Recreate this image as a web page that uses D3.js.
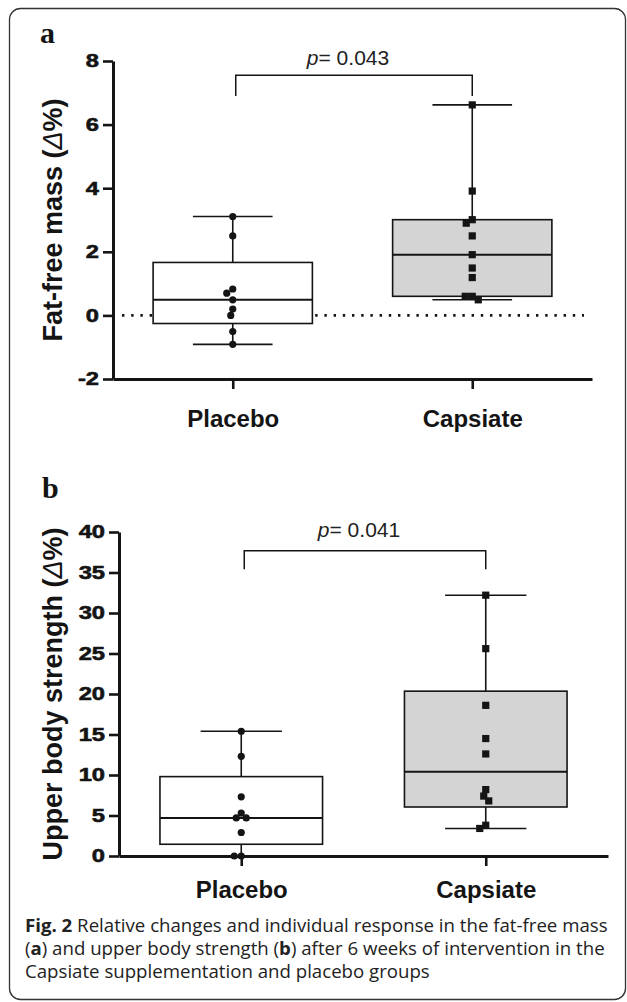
<!DOCTYPE html>
<html>
<head>
<meta charset="utf-8">
<script src="https://cdn.jsdelivr.net/npm/d3@7"></script>
<style>
  body { margin: 0; background: #fff; }
  svg { display: block; }
</style>
</head>
<body>
<div id="fig"></div>
<script>
/* groups on the x axis */
var groups = ["Placebo", "Capsiate"];

/* panel a: fat-free mass, relative change (%) per subject */
var ffmPlacebo = [3.11, 2.50, 0.83, 0.70, 0.49, 0.20, 0.00, -0.51, -0.91];
var ffmCapsiate = [6.62, 3.91, 3.01, 2.90, 2.50, 1.91, 1.49, 1.19, 0.60, 0.60, 0.49];
var ffmTicks = [-2, 0, 2, 4, 6, 8];

/* panel b: upper body strength, relative change (%) per subject */
var ubsPlacebo = [15.4, 12.3, 7.3, 5.3, 4.7, 4.7, 2.9, 0.0, 0.0];
var ubsCapsiate = [32.2, 25.6, 18.6, 14.5, 12.6, 8.2, 7.4, 6.8, 3.8, 3.4];
var ubsTicks = [0, 5, 10, 15, 20, 25, 30, 35, 40];

var pValues = ["0.043", "0.041"];

var W = 627, H = 1002;
var ink = "#141414";
var sans = "'Liberation Sans', Arimo, Arial, Helvetica, sans-serif";

var svg = d3.select("#fig").append("svg")
    .attr("width", W).attr("height", H);

/* frame round the figure */
svg.append("rect")
    .attr("x", 9.5).attr("y", 8.5)
    .attr("width", 616).attr("height", 991)
    .attr("rx", 11)
    .attr("fill", "none").attr("stroke", "#333").attr("stroke-width", 1.3);

function translate(x, y) { return "translate(" + x + "," + y + ")"; }

/* GraphPad style quantile: position (n+1)p, linear interpolation */
function quant(sorted, p) {
    var n = sorted.length, h = (n + 1) * p - 1, lo = Math.floor(h);
    if (lo < 0) return sorted[0];
    if (lo >= n - 1) return sorted[n - 1];
    return sorted[lo] + (h - lo) * (sorted[lo + 1] - sorted[lo]);
}

/* simple beeswarm: smallest horizontal shift that avoids overlap */
function swarm(ys, diam) {
    var placed = [];
    return ys.map(function(y) {
        var dx = 0;
        for (var k = 0; k < 60; k++) {
            dx = (k % 2 ? -1 : 1) * Math.ceil(k / 2);
            var ok = placed.every(function(p) {
                var ex = dx - p.dx, ey = y - p.y;
                return ex * ex + ey * ey >= diam * diam * 0.9;
            });
            if (ok) break;
        }
        var pt = {dx: dx, y: y};
        placed.push(pt);
        return pt;
    });
}

/* stretch a text horizontally (the source tick digits are wide) */
function widen(sel, f) {
    sel.each(function() {
        var w = this.getComputedTextLength();
        d3.select(this).attr("textLength", w * f).attr("lengthAdjust", "spacingAndGlyphs");
    });
}

function panel(cfg) {
    var x = d3.scalePoint().domain(groups).range(cfg.xRange).padding(0.5);
    var y = d3.scaleLinear().domain(cfg.yDomain).range(cfg.yRange);
    var step = x.step(), boxW = step * 0.665, capW = boxW / 2;
    var g = svg.append("g");

    /* panel letter */
    g.append("text")
        .attr("x", cfg.letterPos[0]).attr("y", cfg.letterPos[1])
        .attr("font-family", "'Liberation Serif', 'Times New Roman', serif")
        .attr("font-weight", "bold").attr("font-size", 30)
        .attr("fill", ink).text(cfg.letter);

    /* reference line at zero */
    if (cfg.zeroLine) {
        g.append("line")
            .attr("x1", cfg.xRange[0] + 9).attr("x2", cfg.xRange[1] - 8)
            .attr("y1", y(0)).attr("y2", y(0))
            .attr("stroke", ink).attr("stroke-width", 2.6)
            .attr("stroke-dasharray", "2.4,6.8");
    }

    /* boxes and whiskers */
    cfg.series.forEach(function(vals, i) {
        var s = vals.slice().sort(d3.ascending);
        var cx = x(groups[i]);
        var q1 = quant(s, 0.25), med = quant(s, 0.5), q3 = quant(s, 0.75);
        var lo = s[0], hi = s[s.length - 1];
        var bg = g.append("g").attr("stroke", ink).attr("stroke-width", 1.6);
        bg.append("line").attr("x1", cx).attr("x2", cx).attr("y1", y(hi)).attr("y2", y(q3));
        bg.append("line").attr("x1", cx).attr("x2", cx).attr("y1", y(q1)).attr("y2", y(lo));
        bg.append("line").attr("x1", cx - capW / 2).attr("x2", cx + capW / 2).attr("y1", y(hi)).attr("y2", y(hi));
        bg.append("line").attr("x1", cx - capW / 2).attr("x2", cx + capW / 2).attr("y1", y(lo)).attr("y2", y(lo));
        bg.append("rect")
            .attr("x", cx - boxW / 2).attr("y", y(q3))
            .attr("width", boxW).attr("height", y(q1) - y(q3))
            .attr("fill", i === 0 ? "#fff" : "#d4d4d4");
        bg.append("line").attr("x1", cx - boxW / 2).attr("x2", cx + boxW / 2)
            .attr("y1", y(med)).attr("y2", y(med)).attr("stroke-width", 2);
    });

    /* individual subjects */
    cfg.series.forEach(function(vals, i) {
        var cx = x(groups[i]);
        var pts = swarm(vals.map(function(v) { return y(v); }), 7);
        if (i === 0) {
            g.selectAll(null).data(pts).enter().append("circle")
                .attr("cx", function(d) { return cx + d.dx; })
                .attr("cy", function(d) { return d.y; })
                .attr("r", 3.6).attr("fill", ink);
        } else {
            g.selectAll(null).data(pts).enter().append("rect")
                .attr("x", function(d) { return cx + d.dx - 3.6; })
                .attr("y", function(d) { return d.y - 3.6; })
                .attr("width", 7.2).attr("height", 7.2).attr("fill", ink);
        }
    });

    /* axes */
    var ya = g.append("g")
        .attr("transform", translate(cfg.xRange[0], 0))
        .call(d3.axisLeft(y).tickValues(cfg.ticks).tickSize(10).tickSizeOuter(0).tickPadding(4)
            .tickFormat(function(d) { return String(d); }));
    ya.select(".domain").attr("stroke", ink).attr("stroke-width", 3);
    ya.selectAll(".tick line").attr("stroke", ink).attr("stroke-width", 2.6);
    ya.selectAll(".tick text")
        .attr("font-family", sans).attr("font-weight", "bold")
        .attr("font-size", 18.5).attr("fill", ink)
        .attr("stroke", ink).attr("stroke-width", 0.6)
        .call(widen, 1.28);

    var xa = g.append("g")
        .attr("transform", translate(0, cfg.yRange[0]))
        .call(d3.axisBottom(x).tickSize(10).tickSizeOuter(0));
    xa.select(".domain").attr("stroke", ink).attr("stroke-width", 3.2);
    xa.selectAll(".tick line").attr("stroke", ink).attr("stroke-width", 2.6);
    xa.selectAll(".tick text")
        .attr("font-family", sans).attr("font-weight", "bold")
        .attr("font-size", 24).attr("fill", ink)
        .attr("y", cfg.xLabelDrop).attr("dy", 0);

    /* y title */
    var t = g.append("text")
        .attr("transform", translate(62, (cfg.yRange[0] + cfg.yRange[1]) / 2) + " rotate(-90)")
        .attr("text-anchor", "middle")
        .attr("font-family", sans)
        .attr("font-weight", "bold").attr("font-size", 27).attr("fill", ink);
    t.append("tspan").text(cfg.yTitle + " (");
    t.append("tspan").attr("font-weight", "normal").attr("font-style", "italic").text("\u0394");
    t.append("tspan").text("%)");

    /* significance bracket */
    var bx0 = x(groups[0]) + 3, bx1 = x(groups[1]);
    g.append("path")
        .attr("d", "M" + bx0 + "," + y(cfg.bracket[1]) + "V" + y(cfg.bracket[0]) +
                   "H" + bx1 + "V" + y(cfg.bracket[1]))
        .attr("fill", "none").attr("stroke", ink).attr("stroke-width", 1.5);
    var pt = g.append("text")
        .attr("x", (bx0 + bx1) / 2 - 6).attr("y", y(cfg.pBase))
        .attr("text-anchor", "middle")
        .attr("font-family", sans)
        .attr("font-size", 21).attr("fill", "#222");
    pt.append("tspan").attr("font-style", "italic").text("p");
    pt.append("tspan").text("= " + cfg.p);
}

panel({
    letter: "a", letterPos: [40, 43],
    xRange: [113, 592], yRange: [379, 61], yDomain: [-2, 8],
    ticks: ffmTicks, series: [ffmPlacebo, ffmCapsiate],
    yTitle: "Fat-free mass", zeroLine: true, xLabelDrop: 48,
    bracket: [7.55, 6.9], pBase: 7.88, p: pValues[0]
});

panel({
    letter: "b", letterPos: [42, 498],
    xRange: [119, 608], yRange: [856, 532], yDomain: [0, 40],
    ticks: ubsTicks, series: [ubsPlacebo, ubsCapsiate],
    yTitle: "Upper body strength", zeroLine: false, xLabelDrop: 42,
    bracket: [37.7, 35.4], pBase: 39.4, p: pValues[1]
});

/* caption */
var cap = [
    [{b: "Fig. 2"}, {t: " Relative changes and individual response in the fat-free mass"}],
    [{t: "("}, {b: "a"}, {t: ") and upper body strength ("}, {b: "b"}, {t: ") after 6 weeks of intervention in the"}],
    [{t: "Capsiate supplementation and placebo groups"}]
];
var capBase = [932, 955, 978];
var capG = svg.append("g")
    .attr("font-family", "'Open Sans', 'Noto Sans', sans-serif")
    .attr("fill", "#222");
var lines = cap.map(function(parts, i) {
    var tx = capG.append("text").attr("x", 25).attr("y", capBase[i]).attr("font-size", 16);
    parts.forEach(function(p) {
        tx.append("tspan").attr("font-weight", p.b ? "bold" : null).text(p.b || p.t);
    });
    return tx;
});
/* size the caption so the first line spans the frame like the source */
var w0 = lines[0].node().getComputedTextLength();
var fs = 16 * 583 / w0;
lines.forEach(function(tx) { tx.attr("font-size", fs); });
</script>
</body>
</html>
